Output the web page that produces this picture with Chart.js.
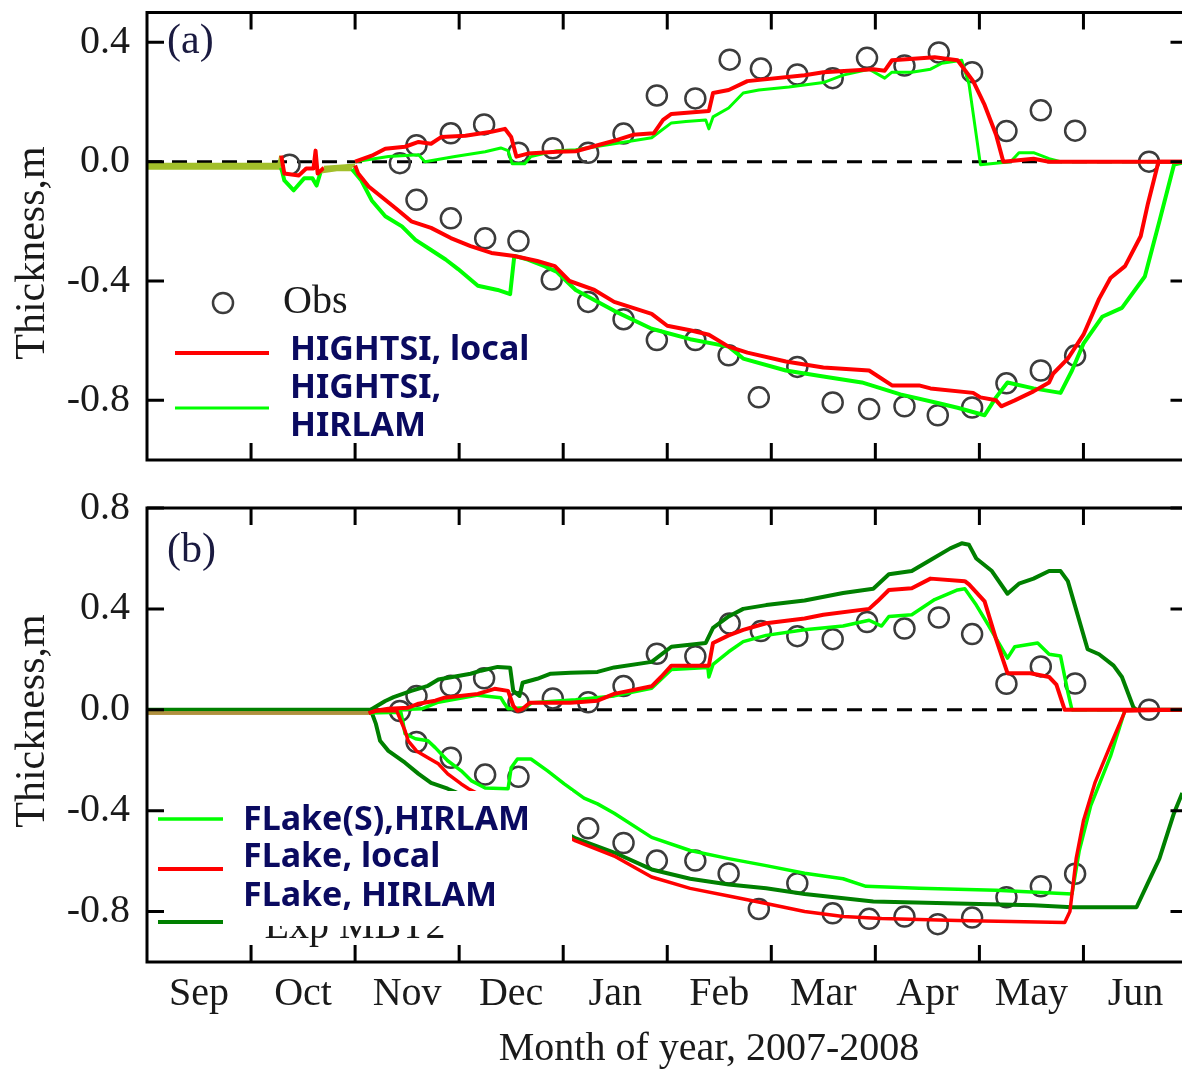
<!DOCTYPE html>
<html>
<head>
<meta charset="utf-8">
<script src="https://cdn.jsdelivr.net/npm/chart.js@4.4.1/dist/chart.umd.min.js"></script>
<style>
  html, body { margin: 0; padding: 0; background: #fff; }
  #wrap { position: relative; width: 1182px; height: 1071px; overflow: hidden; background: #fff; }
  #wrap canvas { position: absolute; left: 0; }
  #chartA { top: 0; }
  #chartB { top: 480px; }
</style>
</head>
<body>
<div id="wrap">
  <canvas id="chartA" width="1200" height="480"></canvas>
  <canvas id="chartB" width="1200" height="591"></canvas>
</div>
<script>
const MONTHS = ['Sep', 'Oct', 'Nov', 'Dec', 'Jan', 'Feb', 'Mar', 'Apr', 'May', 'Jun'];
const Y_TICKS_A = [-0.8, -0.4, 0, 0.4];
const Y_TICKS_B = [-0.8, -0.4, 0, 0.4, 0.8];

// x = months since 1 Sep 2007, y = thickness in m (snow above 0, ice below 0)
const obsSnow = [[1.37, -0.01], [2.43, -0.005], [2.59, 0.055], [2.92, 0.095], [3.24, 0.125], [3.57, 0.03],
  [3.90, 0.045], [4.24, 0.03], [4.58, 0.094], [4.90, 0.222], [5.27, 0.212], [5.60, 0.342], [5.90, 0.312],
  [6.25, 0.292], [6.59, 0.28], [6.92, 0.348], [7.28, 0.322], [7.61, 0.366], [7.93, 0.30], [8.26, 0.103],
  [8.59, 0.172], [8.92, 0.104], [9.63, 0.0]];
const obsIce = [[2.59, -0.128], [2.92, -0.19], [3.25, -0.257], [3.57, -0.266], [3.89, -0.395], [4.24, -0.47],
  [4.58, -0.528], [4.90, -0.598], [5.27, -0.598], [5.59, -0.649], [5.88, -0.79], [6.25, -0.688], [6.59, -0.807],
  [6.94, -0.829], [7.28, -0.82], [7.60, -0.85], [7.93, -0.824], [8.26, -0.743], [8.59, -0.70], [8.92, -0.65]];

// (a) HIGHTSI
const hightsiLocalSnow = [[2.0, 0], [2.16, 0.02], [2.29, 0.043], [2.48, 0.05], [2.61, 0.066], [2.73, 0.06],
  [2.83, 0.083], [3.06, 0.087], [3.31, 0.10], [3.44, 0.11], [3.50, 0.083], [3.55, 0.017], [3.66, 0.027],
  [3.94, 0.033], [4.12, 0.035], [4.49, 0.07], [4.67, 0.09], [4.87, 0.095], [4.96, 0.14], [5.04, 0.16],
  [5.40, 0.17], [5.44, 0.23], [5.59, 0.24], [5.77, 0.27], [6.32, 0.29], [6.50, 0.30], [6.98, 0.31],
  [7.09, 0.305], [7.16, 0.34], [7.57, 0.35], [7.79, 0.34], [7.94, 0.27], [8.05, 0.19], [8.16, 0.09],
  [8.23, 0.0], [8.52, 0.01], [8.67, 0.0], [10, 0]];
const hightsiLocalIce = [[0, -0.01], [1.27, -0.01], [1.29, 0.02], [1.32, -0.04], [1.46, -0.046], [1.53, -0.023],
  [1.60, -0.023], [1.62, 0.037], [1.64, -0.04], [1.70, -0.02], [1.84, -0.017], [2.0, -0.013], [2.03, -0.04],
  [2.13, -0.083], [2.25, -0.117], [2.39, -0.156], [2.54, -0.20], [2.73, -0.222], [2.92, -0.256], [3.11, -0.283],
  [3.31, -0.306], [3.53, -0.316], [3.75, -0.333], [3.92, -0.35], [4.06, -0.40], [4.30, -0.43], [4.49, -0.47],
  [4.67, -0.49], [4.85, -0.51], [5.0, -0.55], [5.22, -0.565], [5.40, -0.58], [5.59, -0.62], [5.77, -0.64],
  [6.14, -0.67], [6.50, -0.69], [6.94, -0.70], [7.16, -0.75], [7.42, -0.75], [7.53, -0.76], [7.94, -0.775],
  [8.01, -0.79], [8.16, -0.80], [8.21, -0.82], [8.34, -0.80], [8.52, -0.77], [8.67, -0.74], [8.71, -0.71],
  [8.85, -0.66], [9.0, -0.58], [9.15, -0.46], [9.26, -0.39], [9.40, -0.35], [9.55, -0.25], [9.62, -0.14],
  [9.70, -0.03], [9.72, 0], [10, 0]];
const hightsiHirlamSnow = [[2.0, 0], [2.32, 0.017], [2.61, 0.023], [2.67, 0.0], [2.96, 0.017], [3.25, 0.033],
  [3.40, 0.046], [3.47, 0.037], [3.51, -0.007], [3.63, -0.007], [3.69, 0.017], [3.94, 0.037], [4.12, 0.04],
  [4.49, 0.06], [4.85, 0.08], [5.04, 0.13], [5.18, 0.135], [5.37, 0.14], [5.40, 0.11], [5.44, 0.15],
  [5.59, 0.18], [5.73, 0.23], [5.88, 0.24], [6.17, 0.25], [6.50, 0.265], [6.69, 0.29], [6.94, 0.31],
  [7.09, 0.28], [7.16, 0.30], [7.35, 0.30], [7.53, 0.31], [7.64, 0.33], [7.83, 0.34], [7.90, 0.26],
  [8.01, -0.01], [8.30, 0.0], [8.38, 0.03], [8.52, 0.03], [8.67, 0.01], [8.78, 0.0], [10, 0]];
const hightsiHirlamIce = [[0, -0.02], [1.29, -0.02], [1.32, -0.063], [1.41, -0.096], [1.51, -0.056],
  [1.59, -0.056], [1.63, -0.08], [1.67, -0.033], [1.84, -0.025], [1.97, -0.025], [2.06, -0.063], [2.16, -0.13],
  [2.29, -0.183], [2.45, -0.217], [2.58, -0.262], [2.73, -0.296], [2.87, -0.328], [2.99, -0.36], [3.18, -0.416],
  [3.37, -0.43], [3.49, -0.444], [3.53, -0.316], [3.66, -0.328], [3.82, -0.35], [3.94, -0.37], [4.12, -0.43],
  [4.49, -0.50], [4.85, -0.56], [5.22, -0.595], [5.59, -0.62], [5.73, -0.66], [6.14, -0.70], [6.50, -0.72],
  [6.87, -0.74], [7.24, -0.78], [7.61, -0.81], [7.79, -0.825], [8.05, -0.85], [8.16, -0.79], [8.27, -0.74],
  [8.52, -0.76], [8.78, -0.775], [8.89, -0.70], [9.0, -0.61], [9.18, -0.52], [9.37, -0.49], [9.59, -0.385],
  [9.73, -0.20], [9.87, -0.01], [10, 0]];

// (b) FLake
const flakeSHirlamSnow = [[2.13, -0.013], [2.40, 0.0], [2.64, 0.004], [2.80, 0.03], [3.18, 0.058], [3.40, 0.048],
  [3.43, 0.028], [3.47, 0.004], [3.63, 0.008], [3.70, 0.028], [4.12, 0.04], [4.49, 0.055], [4.85, 0.085],
  [5.04, 0.16], [5.39, 0.168], [5.40, 0.13], [5.44, 0.18], [5.59, 0.23], [5.73, 0.27], [5.95, 0.295],
  [6.32, 0.317], [6.69, 0.332], [6.94, 0.355], [7.06, 0.332], [7.13, 0.37], [7.35, 0.377], [7.57, 0.437],
  [7.79, 0.475], [7.86, 0.48], [7.97, 0.415], [8.08, 0.34], [8.27, 0.205], [8.34, 0.25], [8.56, 0.265],
  [8.67, 0.22], [8.78, 0.213], [8.85, 0.07], [8.89, 0.0], [10, 0]];
const flakeSHirlamIce = [[0, -0.013], [2.13, -0.013], [2.44, -0.01], [2.46, -0.05], [2.48, -0.095], [2.58, -0.115],
  [2.70, -0.123], [2.77, -0.15], [2.89, -0.202], [3.02, -0.242], [3.12, -0.282], [3.25, -0.31], [3.47, -0.313],
  [3.50, -0.23], [3.56, -0.195], [3.69, -0.195], [3.85, -0.242], [4.01, -0.294], [4.20, -0.35], [4.33, -0.373],
  [4.49, -0.41], [4.85, -0.506], [5.22, -0.558], [5.59, -0.59], [5.95, -0.618], [6.32, -0.648], [6.69, -0.67],
  [6.91, -0.70], [7.42, -0.708], [8.16, -0.716], [8.89, -0.73], [8.96, -0.558], [9.07, -0.38], [9.26, -0.184],
  [9.40, 0], [10, 0]];
const flakeLocalSnow = [[2.13, -0.013], [2.20, -0.004], [2.32, 0.004], [2.51, 0.008], [2.61, 0.024], [2.77, 0.036],
  [2.86, 0.048], [3.18, 0.063], [3.34, 0.083], [3.47, 0.075], [3.52, 0.016], [3.56, -0.004], [3.61, 0.004],
  [3.68, 0.028], [4.07, 0.028], [4.33, 0.036], [4.49, 0.063], [4.85, 0.093], [4.94, 0.13], [5.04, 0.175],
  [5.40, 0.175], [5.44, 0.265], [5.59, 0.295], [5.73, 0.317], [5.95, 0.343], [6.32, 0.362], [6.50, 0.377],
  [6.94, 0.40], [7.02, 0.43], [7.13, 0.475], [7.35, 0.482], [7.53, 0.52], [7.86, 0.51], [7.90, 0.497],
  [8.05, 0.43], [8.16, 0.28], [8.27, 0.145], [8.49, 0.145], [8.67, 0.13], [8.74, 0.10], [8.82, 0.0], [10, 0]];
const flakeLocalIce = [[0, -0.013], [2.13, -0.013], [2.20, -0.004], [2.40, -0.004], [2.44, -0.044], [2.48, -0.083],
  [2.51, -0.123], [2.59, -0.163], [2.70, -0.19], [2.80, -0.214], [2.89, -0.254], [3.02, -0.294], [3.09, -0.313],
  [3.40, -0.38], [3.80, -0.45], [4.12, -0.52], [4.49, -0.58], [4.85, -0.663], [5.22, -0.708], [5.59, -0.738],
  [5.95, -0.768], [6.32, -0.80], [6.69, -0.82], [7.06, -0.828], [7.79, -0.835], [8.82, -0.843], [8.87, -0.80],
  [8.93, -0.59], [9.0, -0.44], [9.11, -0.29], [9.26, -0.14], [9.40, -0.005], [10, 0]];
const flakeHirlamSnow = [[2.15, 0.0], [2.29, 0.035], [2.37, 0.05], [2.54, 0.075], [2.70, 0.095], [2.80, 0.12],
  [3.11, 0.143], [3.21, 0.155], [3.37, 0.17], [3.49, 0.167], [3.52, 0.075], [3.58, 0.055], [3.61, 0.107],
  [3.75, 0.123], [3.88, 0.143], [4.07, 0.147], [4.33, 0.15], [4.49, 0.168], [4.85, 0.19], [5.04, 0.25],
  [5.37, 0.265], [5.44, 0.325], [5.59, 0.37], [5.73, 0.40], [5.95, 0.415], [6.32, 0.433], [6.69, 0.463],
  [6.98, 0.48], [7.13, 0.537], [7.35, 0.55], [7.53, 0.594], [7.72, 0.64], [7.83, 0.66], [7.90, 0.654],
  [7.97, 0.60], [8.12, 0.55], [8.27, 0.46], [8.38, 0.50], [8.52, 0.52], [8.67, 0.55], [8.78, 0.55],
  [8.85, 0.51], [9.04, 0.24], [9.15, 0.22], [9.29, 0.175], [9.37, 0.13], [9.48, 0.01], [9.51, 0.0], [10, 0]];
const flakeHirlamIce = [[0, 0], [2.15, 0.0], [2.20, -0.056], [2.24, -0.123], [2.32, -0.163], [2.48, -0.21],
  [2.61, -0.254], [2.73, -0.29], [2.89, -0.313], [3.10, -0.35], [3.50, -0.41], [3.90, -0.46], [4.12, -0.51],
  [4.49, -0.566], [4.85, -0.633], [5.22, -0.67], [5.59, -0.693], [5.95, -0.708], [6.32, -0.73], [6.98, -0.76],
  [7.79, -0.768], [8.52, -0.775], [8.89, -0.783], [9.51, -0.783], [9.62, -0.686], [9.73, -0.59],
  [9.87, -0.41], [9.95, -0.33]];
const zeroLine = [[0, 0], [10, 0]];

// month ranges where the two model curves lie on top of each other and print as one mixed band
const OVERLAP_A = [[0, 1.29], [1.67, 2.0]];
const OVERLAP_B = [[0, 2.13]];

const SERIF = '"Liberation Serif", "DejaVu Serif", serif';
const LEGEND_FONT = 'bold 34px "Noto Sans", "DejaVu Sans", sans-serif';
const TEXT = '#1a1a1a';
const NAVY = '#0a0a60';
const RED = '#ff0000';
const GREEN = '#00ff00';
const DKGREEN = '#008000';
const OLIVE = '#a2bf2a';
const TAN = '#b0903e';
const OBS = '#3c3c3c';

const pts = arr => arr.map(([x, y]) => ({ x, y }));

function line(data, color, width, order, overlap, mixColor) {
  const ds = { data: pts(data), borderColor: color, borderWidth: width, pointRadius: 0,
    tension: 0, fill: false, borderJoinStyle: 'round', order };
  if (overlap) {
    ds.segment = {
      borderColor: c => overlap.some(([a, b]) => c.p0.parsed.x >= a && c.p1.parsed.x <= b) ? mixColor : undefined
    };
  }
  return ds;
}
function dashed() {
  return { data: pts(zeroLine), borderColor: '#000', borderWidth: 3, borderDash: [15, 10],
    pointRadius: 0, fill: false, order: 10 };
}
function obs(data) {
  return { data: pts(data), showLine: false, pointRadius: 10, pointHoverRadius: 10,
    pointBorderWidth: 2.5, pointBorderColor: OBS, pointBackgroundColor: 'rgba(0,0,0,0)', order: 9 };
}

function xScale(showLabels) {
  return {
    type: 'linear', min: 0, max: 10, display: showLabels,
    grid: { display: false, drawTicks: false }, border: { display: false },
    afterBuildTicks: s => { s.ticks = MONTHS.map((_, i) => ({ value: i + 0.5 })); },
    afterFit: s => {
      s.height = showLabels ? 109 : 0;
      s.paddingLeft = 0; s.paddingRight = 0;
    },
    ticks: { autoSkip: false, maxRotation: 0, padding: 8, color: TEXT,
      font: { family: SERIF, size: 40 }, callback: v => MONTHS[Math.floor(v)] }
  };
}
function yScale(min, max, ticks) {
  return {
    type: 'linear', min, max,
    grid: { display: false, drawTicks: false }, border: { display: false },
    afterBuildTicks: s => { s.ticks = ticks.map(v => ({ value: v })); },
    afterFit: s => {
      s.width = 147;
      s.paddingTop = 0; s.paddingBottom = 0;
    },
    ticks: { padding: 17, color: TEXT, font: { family: SERIF, size: 40 }, callback: v => v.toFixed(1) }
  };
}

// frame with inward ticks, y title and panel letter
function framePlugin(yTicks, titleY, letter, letterY) {
  return {
    id: 'frame',
    afterDraw(chart) {
      const { ctx, chartArea: a, scales: { x, y } } = chart;
      ctx.save();
      ctx.strokeStyle = '#000';
      ctx.lineWidth = 3;
      ctx.strokeRect(a.left, a.top, a.right - a.left, a.bottom - a.top);
      ctx.beginPath();
      for (let m = 1; m < MONTHS.length; m++) {
        const px = x.getPixelForValue(m);
        ctx.moveTo(px, a.top); ctx.lineTo(px, a.top + 17);
        ctx.moveTo(px, a.bottom); ctx.lineTo(px, a.bottom - 17);
      }
      yTicks.forEach(v => {
        const py = y.getPixelForValue(v);
        ctx.moveTo(a.left, py); ctx.lineTo(a.left + 17, py);
        ctx.moveTo(a.right, py); ctx.lineTo(a.right - 17, py);
      });
      ctx.stroke();

      ctx.fillStyle = TEXT;
      ctx.font = '42px ' + SERIF;
      ctx.textAlign = 'center';
      ctx.textBaseline = 'middle';
      ctx.translate(33, titleY);
      ctx.rotate(-Math.PI / 2);
      ctx.fillText('Thickness,m', 0, 0);
      ctx.restore();

      ctx.save();
      ctx.fillStyle = '#1a1a40';
      ctx.font = '42px ' + SERIF;
      ctx.textBaseline = 'middle';
      ctx.fillText(letter, a.left + 20, letterY);
      ctx.restore();
    }
  };
}

const legendA = {
  id: 'legendA',
  afterDatasetsDraw(chart) {
    const ctx = chart.ctx;
    ctx.save();
    ctx.strokeStyle = OBS;
    ctx.lineWidth = 2.5;
    ctx.beginPath();
    ctx.arc(223, 303, 10, 0, Math.PI * 2);
    ctx.stroke();
    ctx.fillStyle = TEXT;
    ctx.font = '40px ' + SERIF;
    ctx.textBaseline = 'middle';
    ctx.fillText('Obs', 283, 302);

    ctx.lineWidth = 4;
    ctx.strokeStyle = RED;
    ctx.beginPath(); ctx.moveTo(175, 353); ctx.lineTo(269, 353); ctx.stroke();
    ctx.lineWidth = 3;
    ctx.strokeStyle = GREEN;
    ctx.beginPath(); ctx.moveTo(175, 408); ctx.lineTo(269, 408); ctx.stroke();

    ctx.fillStyle = NAVY;
    ctx.font = LEGEND_FONT;
    ctx.fillText('HIGHTSI, local', 290, 350);
    ctx.fillText('HIGHTSI,', 290, 388);
    ctx.fillText('HIRLAM', 290, 426);
    ctx.restore();
  }
};

const legendB = {
  id: 'legendB',
  afterDatasetsDraw(chart) {
    const { ctx, chartArea: a } = chart;
    ctx.save();
    ctx.fillStyle = '#fff';
    ctx.fillRect(a.left + 2, 311, 572 - a.left - 2, a.bottom - 311 - 2);

    ctx.fillStyle = TEXT;
    ctx.font = '40px ' + SERIF;
    ctx.textAlign = 'center';
    ctx.textBaseline = 'alphabetic';
    ctx.fillText('Exp MBT2', 355, 458);
    ctx.fillStyle = '#fff';
    ctx.fillRect(250, 425, 220, 21);

    ctx.lineWidth = 3.5;
    ctx.strokeStyle = GREEN;
    ctx.beginPath(); ctx.moveTo(158, 339); ctx.lineTo(223, 339); ctx.stroke();
    ctx.lineWidth = 4;
    ctx.strokeStyle = RED;
    ctx.beginPath(); ctx.moveTo(158, 389); ctx.lineTo(223, 389); ctx.stroke();
    ctx.strokeStyle = DKGREEN;
    ctx.beginPath(); ctx.moveTo(158, 442); ctx.lineTo(223, 442); ctx.stroke();

    ctx.fillStyle = NAVY;
    ctx.font = LEGEND_FONT;
    ctx.textAlign = 'left';
    ctx.textBaseline = 'middle';
    ctx.fillText('FLake(S),HIRLAM', 243, 340);
    ctx.fillText('FLake, local', 243, 377);
    ctx.fillText('FLake, HIRLAM', 243, 416);
    ctx.restore();
  }
};

const xTitle = {
  id: 'xTitle',
  afterDraw(chart) {
    const ctx = chart.ctx;
    ctx.save();
    ctx.fillStyle = TEXT;
    ctx.font = '40px ' + SERIF;
    ctx.textAlign = 'center';
    ctx.textBaseline = 'alphabetic';
    ctx.fillText('Month of year, 2007-2008', 709, 580);
    ctx.restore();
  }
};

const common = {
  responsive: false,
  animation: false,
  devicePixelRatio: 1,
  plugins: { legend: { display: false }, tooltip: { enabled: false } }
};

new Chart(document.getElementById('chartA'), {
  type: 'line',
  data: {
    datasets: [
      dashed(),
      obs(obsSnow),
      obs(obsIce),
      line(hightsiHirlamSnow, GREEN, 3, 5),
      line(hightsiHirlamIce, GREEN, 4, 5, OVERLAP_A, OLIVE),
      line(hightsiLocalSnow, RED, 4, 1),
      line(hightsiLocalIce, RED, 4, 1, OVERLAP_A, OLIVE)
    ]
  },
  options: {
    ...common,
    layout: { padding: { top: 8, right: 6, bottom: 20, left: 0 } },
    scales: { x: xScale(false), y: yScale(-1.0, 0.5, Y_TICKS_A) }
  },
  plugins: [legendA, framePlugin(Y_TICKS_A, 253, '(a)', 42)]
});

new Chart(document.getElementById('chartB'), {
  type: 'line',
  data: {
    datasets: [
      dashed(),
      obs(obsSnow.slice(1)),
      obs(obsIce),
      line(flakeHirlamSnow, DKGREEN, 4, 6),
      line(flakeHirlamIce, DKGREEN, 4, 6),
      line(flakeSHirlamSnow, GREEN, 3.5, 4),
      line(flakeSHirlamIce, GREEN, 3.5, 4, OVERLAP_B, TAN),
      line(flakeLocalSnow, RED, 4, 1),
      line(flakeLocalIce, RED, 3.5, 1, OVERLAP_B, TAN)
    ]
  },
  options: {
    ...common,
    layout: { padding: { top: 28, right: 6, bottom: 0, left: 0 } },
    scales: { x: xScale(true), y: yScale(-1.0, 0.8, Y_TICKS_B) }
  },
  plugins: [legendB, framePlugin(Y_TICKS_B, 241, '(b)', 71), xTitle]
});
</script>
</body>
</html>
